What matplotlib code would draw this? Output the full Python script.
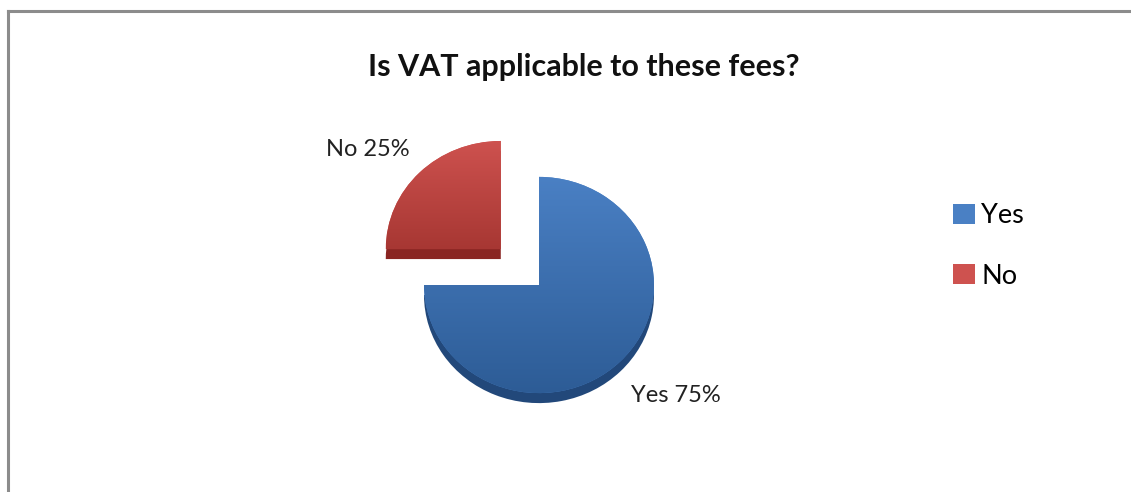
import numpy as np
import matplotlib.pyplot as plt
from matplotlib.colors import LinearSegmentedColormap
from matplotlib.lines import Line2D

plt.rcParams['font.family'] = ['Lato', 'DejaVu Sans']

# survey answers
categories = ['Yes', 'No']
shares = [75, 25]
pull_out = [0, 0.47]
title = 'Is VAT applicable to these fees?'

top_light = ['#4A80C4', '#CE524F']
top_dark = ['#2D5C96', '#A73733']
side_cols = ['#22487A', '#8A2522']

W, H = 1131, 492
fig = plt.figure(figsize=(W / 100, H / 100), dpi=100)
ax = fig.add_axes([0, 0, 1, 1])

# work in pixel units, y squashed slightly to tilt the pie
squash = 0.94
r = 115
cx = 539
cy = (H - 285) / squash
depth = 10 / squash
explode = [p * r for p in pull_out]  # pie's explode is in data units

# darker copy underneath gives the 3D rim
ax.pie(shares, colors=side_cols, startangle=90, counterclock=False,
       explode=explode, radius=r, center=(cx, cy - depth),
       wedgeprops=dict(linewidth=0))
wedges, _ = ax.pie(shares, colors=top_light, startangle=90, counterclock=False,
                   explode=explode, radius=r, center=(cx, cy),
                   wedgeprops=dict(linewidth=0))

# vertical shading on each top face
grad = np.linspace(1, 0, 256)[:, None]
for w, lo, hi in zip(wedges, top_dark, top_light):
    bb = w.get_path().get_extents()
    cm = LinearSegmentedColormap.from_list('shade', [lo, hi])
    im = ax.imshow(grad, extent=[bb.x0, bb.x1, bb.y0, bb.y1], cmap=cm,
                   aspect='auto', interpolation='bicubic', zorder=3)
    im.set_clip_path(w)

ax.set_aspect('auto')
ax.set_xlim(0, W)
ax.set_ylim(0, H / squash)
ax.axis('off')

# data labels beside each slice
label_pos = [(676, 396), (368, 149)]
for name, val, (lx, ly) in zip(categories, shares, label_pos):
    ax.text(lx, (H - ly) / squash, f'{name} {val}%', ha='center', va='center',
            fontsize=17, color='#222222', zorder=5)

fig.text(584 / W, 1 - 67 / H, title, ha='center', va='center',
         fontsize=22, fontweight='bold', color='#111111')

fig.legend(wedges, categories, loc='center left',
           bbox_to_anchor=(929 / W, 1 - 246 / H), frameon=False,
           fontsize=19.5, handlelength=0.78, handleheight=0.78,
           labelspacing=1.3, handletextpad=0.25)

# chart border (top and left edges visible)
fig.add_artist(Line2D([8 / W, 8 / W], [0, 1 - 11 / H], color='#8C8C8C', lw=2.2))
fig.add_artist(Line2D([8 / W, 1], [1 - 11 / H, 1 - 11 / H], color='#8C8C8C', lw=2.2))

fig.savefig('out.png', dpi=100, facecolor='white')
